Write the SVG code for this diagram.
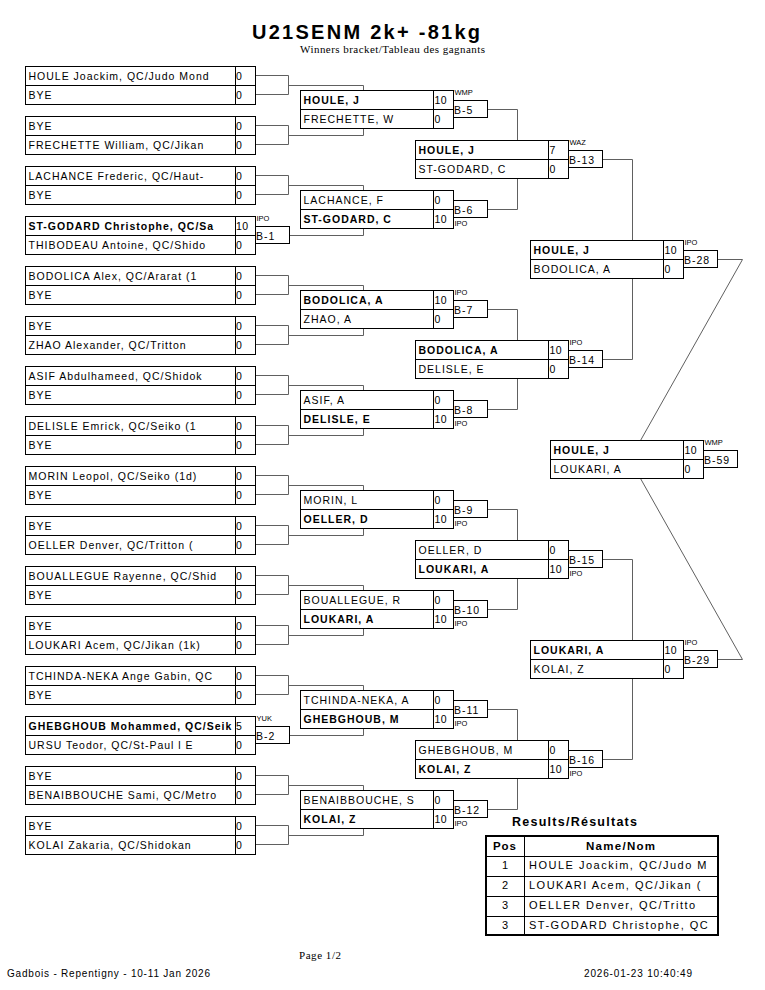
<svg xmlns="http://www.w3.org/2000/svg" xmlns:xlink="http://www.w3.org/1999/xlink" width="765" height="990" viewBox="0 0 765 990">
<style>
.bx{fill:#fff;stroke:#000;stroke-width:1}
.ln{fill:none;stroke:#000;stroke-width:1}
.c{fill:none;stroke:#606060;stroke-width:1}
text{font-family:"Liberation Sans",Arial,sans-serif;fill:#000}
.n{font-size:10.5px;letter-spacing:1px}
.w{font-weight:bold}
.s{font-size:10.5px;letter-spacing:0.5px}
.bt{font-size:10.5px;letter-spacing:1px}
.lb{font-size:7.5px}
.tn{font-size:11px;letter-spacing:1.5px}
.tc{font-size:11px;text-anchor:middle}
.th{font-size:11.5px;font-weight:bold}
</style>
<defs>
<g id="b1"><rect class="bx" x="0" y="0" width="230" height="38"/><path class="ln" d="M0 19H230M210 0V38"/></g>
<g id="b2"><rect class="bx" x="0" y="0" width="153" height="38"/><path class="ln" d="M0 19H153M133 0V38"/></g>
<rect id="bb" class="bx" x="0" y="0" width="34" height="17"/>
</defs>
<rect x="0" y="0" width="765" height="990" fill="#fff"/>
<g id="title">
<text x="252" y="38.5" font-size="20" font-weight="bold" textLength="228" lengthAdjust="spacing">U21SENM 2k+ -81kg</text>
<text x="300" y="53" font-size="11" style="font-family:'Liberation Serif','Times New Roman',serif" textLength="185" lengthAdjust="spacing">Winners bracket/Tableau des gagnants</text>
</g>
<g id="connectors">
<path class="c" d="M255.5 75.5H288.5V94.5H255.5M288.5 85.5H363.5V90.5"/>
<path class="c" d="M255.5 125.5H288.5V144.5H255.5M288.5 135.5H363.5V128.5"/>
<path class="c" d="M255.5 175.5H288.5V194.5H255.5M288.5 185.5H363.5V190.5"/>
<path class="c" d="M289.5 235.5H363.5V228.5"/>
<path class="c" d="M255.5 275.5H288.5V294.5H255.5M288.5 285.5H363.5V290.5"/>
<path class="c" d="M255.5 325.5H288.5V344.5H255.5M288.5 335.5H363.5V328.5"/>
<path class="c" d="M255.5 375.5H288.5V394.5H255.5M288.5 385.5H363.5V390.5"/>
<path class="c" d="M255.5 425.5H288.5V444.5H255.5M288.5 435.5H363.5V428.5"/>
<path class="c" d="M255.5 475.5H288.5V494.5H255.5M288.5 485.5H363.5V490.5"/>
<path class="c" d="M255.5 525.5H288.5V544.5H255.5M288.5 535.5H363.5V528.5"/>
<path class="c" d="M255.5 575.5H288.5V594.5H255.5M288.5 585.5H363.5V590.5"/>
<path class="c" d="M255.5 625.5H288.5V644.5H255.5M288.5 635.5H363.5V628.5"/>
<path class="c" d="M255.5 675.5H288.5V694.5H255.5M288.5 685.5H363.5V690.5"/>
<path class="c" d="M289.5 735.5H363.5V728.5"/>
<path class="c" d="M255.5 775.5H288.5V794.5H255.5M288.5 785.5H363.5V790.5"/>
<path class="c" d="M255.5 825.5H288.5V844.5H255.5M288.5 835.5H363.5V828.5"/>
<path class="c" d="M487.5 109.5H517.5V140.5"/>
<path class="c" d="M487.5 209.5H517.5V178.5"/>
<path class="c" d="M487.5 309.5H517.5V340.5"/>
<path class="c" d="M487.5 409.5H517.5V378.5"/>
<path class="c" d="M487.5 509.5H517.5V540.5"/>
<path class="c" d="M487.5 609.5H517.5V578.5"/>
<path class="c" d="M487.5 709.5H517.5V740.5"/>
<path class="c" d="M487.5 809.5H517.5V778.5"/>
<path class="c" d="M602.5 159.5H632.5V240.5"/>
<path class="c" d="M602.5 359.5H632.5V278.5"/>
<path class="c" d="M602.5 559.5H632.5V640.5"/>
<path class="c" d="M602.5 759.5H632.5V678.5"/>
<path class="c" d="M717.5 259.5H742.5L640.5 440.5"/>
<path class="c" d="M717.5 659.5H742.5L640.5 478.5"/>
</g>
<g id="r1-1"><use xlink:href="#b1" x="25.5" y="66.5"/><text class="n" x="28.5" y="80">HOULE Joackim, QC/Judo Mond</text><text class="s" x="236" y="80">0</text><text class="n" x="28.5" y="99">BYE</text><text class="s" x="236" y="99">0</text></g>
<g id="r1-2"><use xlink:href="#b1" x="25.5" y="116.5"/><text class="n" x="28.5" y="130">BYE</text><text class="s" x="236" y="130">0</text><text class="n" x="28.5" y="149">FRECHETTE William, QC/Jikan</text><text class="s" x="236" y="149">0</text></g>
<g id="r1-3"><use xlink:href="#b1" x="25.5" y="166.5"/><text class="n" x="28.5" y="180">LACHANCE Frederic, QC/Haut-</text><text class="s" x="236" y="180">0</text><text class="n" x="28.5" y="199">BYE</text><text class="s" x="236" y="199">0</text></g>
<g id="r1-4"><use xlink:href="#b1" x="25.5" y="216.5"/><text class="n w" x="28.5" y="230">ST-GODARD Christophe, QC/Sa</text><text class="s" x="236" y="230">10</text><text class="n" x="28.5" y="249">THIBODEAU Antoine, QC/Shido</text><text class="s" x="236" y="249">0</text><use xlink:href="#bb" x="255.5" y="226.5"/><text class="bt" x="256" y="240">B-1</text><text class="lb" x="256.5" y="221">IPO</text></g>
<g id="r1-5"><use xlink:href="#b1" x="25.5" y="266.5"/><text class="n" x="28.5" y="280">BODOLICA Alex, QC/Ararat (1</text><text class="s" x="236" y="280">0</text><text class="n" x="28.5" y="299">BYE</text><text class="s" x="236" y="299">0</text></g>
<g id="r1-6"><use xlink:href="#b1" x="25.5" y="316.5"/><text class="n" x="28.5" y="330">BYE</text><text class="s" x="236" y="330">0</text><text class="n" x="28.5" y="349">ZHAO Alexander, QC/Tritton</text><text class="s" x="236" y="349">0</text></g>
<g id="r1-7"><use xlink:href="#b1" x="25.5" y="366.5"/><text class="n" x="28.5" y="380">ASIF Abdulhameed, QC/Shidok</text><text class="s" x="236" y="380">0</text><text class="n" x="28.5" y="399">BYE</text><text class="s" x="236" y="399">0</text></g>
<g id="r1-8"><use xlink:href="#b1" x="25.5" y="416.5"/><text class="n" x="28.5" y="430">DELISLE Emrick, QC/Seiko (1</text><text class="s" x="236" y="430">0</text><text class="n" x="28.5" y="449">BYE</text><text class="s" x="236" y="449">0</text></g>
<g id="r1-9"><use xlink:href="#b1" x="25.5" y="466.5"/><text class="n" x="28.5" y="480">MORIN Leopol, QC/Seiko (1d)</text><text class="s" x="236" y="480">0</text><text class="n" x="28.5" y="499">BYE</text><text class="s" x="236" y="499">0</text></g>
<g id="r1-10"><use xlink:href="#b1" x="25.5" y="516.5"/><text class="n" x="28.5" y="530">BYE</text><text class="s" x="236" y="530">0</text><text class="n" x="28.5" y="549">OELLER Denver, QC/Tritton (</text><text class="s" x="236" y="549">0</text></g>
<g id="r1-11"><use xlink:href="#b1" x="25.5" y="566.5"/><text class="n" x="28.5" y="580">BOUALLEGUE Rayenne, QC/Shid</text><text class="s" x="236" y="580">0</text><text class="n" x="28.5" y="599">BYE</text><text class="s" x="236" y="599">0</text></g>
<g id="r1-12"><use xlink:href="#b1" x="25.5" y="616.5"/><text class="n" x="28.5" y="630">BYE</text><text class="s" x="236" y="630">0</text><text class="n" x="28.5" y="649">LOUKARI Acem, QC/Jikan (1k)</text><text class="s" x="236" y="649">0</text></g>
<g id="r1-13"><use xlink:href="#b1" x="25.5" y="666.5"/><text class="n" x="28.5" y="680">TCHINDA-NEKA Ange Gabin, QC</text><text class="s" x="236" y="680">0</text><text class="n" x="28.5" y="699">BYE</text><text class="s" x="236" y="699">0</text></g>
<g id="r1-14"><use xlink:href="#b1" x="25.5" y="716.5"/><text class="n w" x="28.5" y="730">GHEBGHOUB Mohammed, QC/Seik</text><text class="s" x="236" y="730">5</text><text class="n" x="28.5" y="749">URSU Teodor, QC/St-Paul l E</text><text class="s" x="236" y="749">0</text><use xlink:href="#bb" x="255.5" y="726.5"/><text class="bt" x="256" y="740">B-2</text><text class="lb" x="256.5" y="721">YUK</text></g>
<g id="r1-15"><use xlink:href="#b1" x="25.5" y="766.5"/><text class="n" x="28.5" y="780">BYE</text><text class="s" x="236" y="780">0</text><text class="n" x="28.5" y="799">BENAIBBOUCHE Sami, QC/Metro</text><text class="s" x="236" y="799">0</text></g>
<g id="r1-16"><use xlink:href="#b1" x="25.5" y="816.5"/><text class="n" x="28.5" y="830">BYE</text><text class="s" x="236" y="830">0</text><text class="n" x="28.5" y="849">KOLAI Zakaria, QC/Shidokan</text><text class="s" x="236" y="849">0</text></g>
<g id="r2-1"><use xlink:href="#b2" x="300.5" y="90.5"/><text class="n w" x="303.5" y="104">HOULE, J</text><text class="s" x="434.5" y="104">10</text><text class="n" x="303.5" y="123">FRECHETTE, W</text><text class="s" x="434.5" y="123">0</text><use xlink:href="#bb" x="453.5" y="100.5"/><text class="bt" x="454" y="114">B-5</text><text class="lb" x="454.5" y="95">WMP</text></g>
<g id="r2-2"><use xlink:href="#b2" x="300.5" y="190.5"/><text class="n" x="303.5" y="204">LACHANCE, F</text><text class="s" x="434.5" y="204">0</text><text class="n w" x="303.5" y="223">ST-GODARD, C</text><text class="s" x="434.5" y="223">10</text><use xlink:href="#bb" x="453.5" y="200.5"/><text class="bt" x="454" y="214">B-6</text><text class="lb" x="454.5" y="226">IPO</text></g>
<g id="r2-3"><use xlink:href="#b2" x="300.5" y="290.5"/><text class="n w" x="303.5" y="304">BODOLICA, A</text><text class="s" x="434.5" y="304">10</text><text class="n" x="303.5" y="323">ZHAO, A</text><text class="s" x="434.5" y="323">0</text><use xlink:href="#bb" x="453.5" y="300.5"/><text class="bt" x="454" y="314">B-7</text><text class="lb" x="454.5" y="295">IPO</text></g>
<g id="r2-4"><use xlink:href="#b2" x="300.5" y="390.5"/><text class="n" x="303.5" y="404">ASIF, A</text><text class="s" x="434.5" y="404">0</text><text class="n w" x="303.5" y="423">DELISLE, E</text><text class="s" x="434.5" y="423">10</text><use xlink:href="#bb" x="453.5" y="400.5"/><text class="bt" x="454" y="414">B-8</text><text class="lb" x="454.5" y="426">IPO</text></g>
<g id="r2-5"><use xlink:href="#b2" x="300.5" y="490.5"/><text class="n" x="303.5" y="504">MORIN, L</text><text class="s" x="434.5" y="504">0</text><text class="n w" x="303.5" y="523">OELLER, D</text><text class="s" x="434.5" y="523">10</text><use xlink:href="#bb" x="453.5" y="500.5"/><text class="bt" x="454" y="514">B-9</text><text class="lb" x="454.5" y="526">IPO</text></g>
<g id="r2-6"><use xlink:href="#b2" x="300.5" y="590.5"/><text class="n" x="303.5" y="604">BOUALLEGUE, R</text><text class="s" x="434.5" y="604">0</text><text class="n w" x="303.5" y="623">LOUKARI, A</text><text class="s" x="434.5" y="623">10</text><use xlink:href="#bb" x="453.5" y="600.5"/><text class="bt" x="454" y="614">B-10</text><text class="lb" x="454.5" y="626">IPO</text></g>
<g id="r2-7"><use xlink:href="#b2" x="300.5" y="690.5"/><text class="n" x="303.5" y="704">TCHINDA-NEKA, A</text><text class="s" x="434.5" y="704">0</text><text class="n w" x="303.5" y="723">GHEBGHOUB, M</text><text class="s" x="434.5" y="723">10</text><use xlink:href="#bb" x="453.5" y="700.5"/><text class="bt" x="454" y="714">B-11</text><text class="lb" x="454.5" y="726">IPO</text></g>
<g id="r2-8"><use xlink:href="#b2" x="300.5" y="790.5"/><text class="n" x="303.5" y="804">BENAIBBOUCHE, S</text><text class="s" x="434.5" y="804">0</text><text class="n w" x="303.5" y="823">KOLAI, Z</text><text class="s" x="434.5" y="823">10</text><use xlink:href="#bb" x="453.5" y="800.5"/><text class="bt" x="454" y="814">B-12</text><text class="lb" x="454.5" y="826">IPO</text></g>
<g id="r3-1"><use xlink:href="#b2" x="415.5" y="140.5"/><text class="n w" x="418.5" y="154">HOULE, J</text><text class="s" x="549.5" y="154">7</text><text class="n" x="418.5" y="173">ST-GODARD, C</text><text class="s" x="549.5" y="173">0</text><use xlink:href="#bb" x="568.5" y="150.5"/><text class="bt" x="569" y="164">B-13</text><text class="lb" x="569.5" y="145">WAZ</text></g>
<g id="r3-2"><use xlink:href="#b2" x="415.5" y="340.5"/><text class="n w" x="418.5" y="354">BODOLICA, A</text><text class="s" x="549.5" y="354">10</text><text class="n" x="418.5" y="373">DELISLE, E</text><text class="s" x="549.5" y="373">0</text><use xlink:href="#bb" x="568.5" y="350.5"/><text class="bt" x="569" y="364">B-14</text><text class="lb" x="569.5" y="345">IPO</text></g>
<g id="r3-3"><use xlink:href="#b2" x="415.5" y="540.5"/><text class="n" x="418.5" y="554">OELLER, D</text><text class="s" x="549.5" y="554">0</text><text class="n w" x="418.5" y="573">LOUKARI, A</text><text class="s" x="549.5" y="573">10</text><use xlink:href="#bb" x="568.5" y="550.5"/><text class="bt" x="569" y="564">B-15</text><text class="lb" x="569.5" y="576">IPO</text></g>
<g id="r3-4"><use xlink:href="#b2" x="415.5" y="740.5"/><text class="n" x="418.5" y="754">GHEBGHOUB, M</text><text class="s" x="549.5" y="754">0</text><text class="n w" x="418.5" y="773">KOLAI, Z</text><text class="s" x="549.5" y="773">10</text><use xlink:href="#bb" x="568.5" y="750.5"/><text class="bt" x="569" y="764">B-16</text><text class="lb" x="569.5" y="776">IPO</text></g>
<g id="r4-1"><use xlink:href="#b2" x="530.5" y="240.5"/><text class="n w" x="533.5" y="254">HOULE, J</text><text class="s" x="664.5" y="254">10</text><text class="n" x="533.5" y="273">BODOLICA, A</text><text class="s" x="664.5" y="273">0</text><use xlink:href="#bb" x="683.5" y="250.5"/><text class="bt" x="684" y="264">B-28</text><text class="lb" x="684.5" y="245">IPO</text></g>
<g id="r4-2"><use xlink:href="#b2" x="530.5" y="640.5"/><text class="n w" x="533.5" y="654">LOUKARI, A</text><text class="s" x="664.5" y="654">10</text><text class="n" x="533.5" y="673">KOLAI, Z</text><text class="s" x="664.5" y="673">0</text><use xlink:href="#bb" x="683.5" y="650.5"/><text class="bt" x="684" y="664">B-29</text><text class="lb" x="684.5" y="645">IPO</text></g>
<g id="r5-1"><use xlink:href="#b2" x="550.5" y="440.5"/><text class="n w" x="553.5" y="454">HOULE, J</text><text class="s" x="684.5" y="454">10</text><text class="n" x="553.5" y="473">LOUKARI, A</text><text class="s" x="684.5" y="473">0</text><use xlink:href="#bb" x="703.5" y="450.5"/><text class="bt" x="704" y="464">B-59</text><text class="lb" x="704.5" y="445">WMP</text></g>
<g id="results">
<text x="512" y="826" font-size="12.5" font-weight="bold" textLength="125" lengthAdjust="spacing">Results/Résultats</text>
<rect x="486" y="836" width="232" height="99" fill="#fff" stroke="#000" stroke-width="2"/>
<path class="ln" d="M486 856.5H718M486 876.5H718M486 896.5H718M486 916.5H718M524.5 836V935"/>
<text class="th" x="493" y="850" textLength="23" lengthAdjust="spacing">Pos</text>
<text class="th" x="586" y="850" textLength="69" lengthAdjust="spacing">Name/Nom</text>
<text class="tc" x="505" y="869">1</text><text class="tn" x="529" y="869">HOULE Joackim, QC/Judo M</text>
<text class="tc" x="505" y="889">2</text><text class="tn" x="529" y="889">LOUKARI Acem, QC/Jikan (</text>
<text class="tc" x="505" y="909">3</text><text class="tn" x="529" y="909">OELLER Denver, QC/Tritto</text>
<text class="tc" x="505" y="929">3</text><text class="tn" x="529" y="929">ST-GODARD Christophe, QC</text>
</g>
<g id="footer">
<text x="299" y="959" font-size="11" style="font-family:'Liberation Serif','Times New Roman',serif" textLength="42" lengthAdjust="spacing">Page 1/2</text>
<text x="7" y="977" font-size="10" textLength="203" lengthAdjust="spacing">Gadbois - Repentigny - 10-11 Jan 2026</text>
<text x="584" y="977" font-size="10" textLength="108" lengthAdjust="spacing">2026-01-23 10:40:49</text>
</g>
</svg>
